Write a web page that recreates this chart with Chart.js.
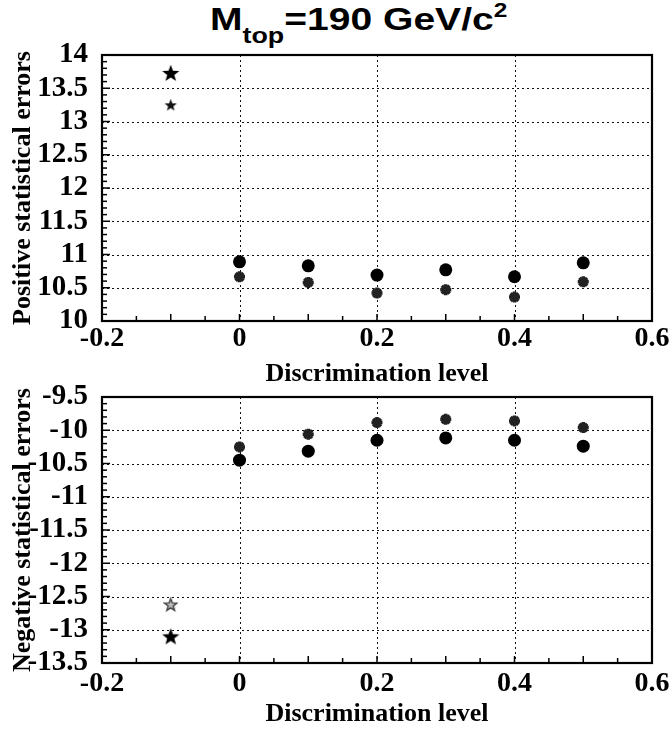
<!DOCTYPE html>
<html>
<head>
<meta charset="utf-8">
<script src="https://cdn.jsdelivr.net/npm/chart.js@4/dist/chart.umd.min.js"></script>
<style>
  html, body { margin:0; padding:0; background:#fff; }
  #wrap { position:relative; width:672px; height:730px; overflow:hidden; }
  canvas { position:absolute; left:0; top:0; }
  #title { position:absolute; left:210px; top:3px; font-family:"Liberation Sans", Arial, sans-serif; font-weight:bold; font-size:32px; line-height:1; white-space:nowrap; transform:scaleX(1.22); transform-origin:0 0; color:#000; }
  #title .sub { font-size:22px; position:relative; top:13px; }
  #title .sup { font-size:20px; position:relative; top:-13px; }
</style>
</head>
<body>
<div id="wrap">
  <div id="title">M<span class="sub">top</span>=190 GeV/c<span class="sup">2</span></div>
  <canvas id="c1" width="672" height="730"></canvas>
  <canvas id="c2" width="672" height="730"></canvas>
</div>
<script>
// ---- data ----
const discLevels = [0, 0.1, 0.2, 0.3, 0.4, 0.5];
const starLevel = [-0.1];
const posCircle = [10.89, 10.83, 10.69, 10.77, 10.665, 10.875];
const posAsterisk = [10.665, 10.58, 10.42, 10.47, 10.36, 10.59];
const posBigStar = [13.73];
const posSmallStar = [13.25];
const negAsterisk = [-10.25, -10.06, -9.885, -9.835, -9.86, -9.96];
const negCircle = [-10.45, -10.315, -10.15, -10.115, -10.15, -10.24];
const negSmallStar = [-12.62];
const negBigStar = [-13.10];
const xTickLabels = ['-0.2', '0', '0.2', '0.4', '0.6'];
const posYTickLabels = ['10', '10.5', '11', '11.5', '12', '12.5', '13', '13.5', '14'];
const negYTickLabels = ['-13.5', '-13', '-12.5', '-12', '-11.5', '-11', '-10.5', '-10', '-9.5'];
const xTitle = 'Discrimination level';
const posYTitle = 'Positive statistical errors';
const negYTitle = 'Negative statistical errors';

// ---- marker images ----
function starImage(size, fill, stroke) {
  const c = document.createElement('canvas');
  c.width = size; c.height = size;
  const g = c.getContext('2d');
  const cx = size / 2, cy = size / 2 + size * 0.04;
  const R = size / 2 - 1, r = R * 0.42;
  g.beginPath();
  for (let i = 0; i < 10; i++) {
    const ang = -Math.PI / 2 + i * Math.PI / 5;
    const rad = i % 2 === 0 ? R : r;
    const px = cx + rad * Math.cos(ang), py = cy + rad * Math.sin(ang);
    if (i === 0) g.moveTo(px, py); else g.lineTo(px, py);
  }
  g.closePath();
  if (fill) { g.fillStyle = fill; g.fill(); }
  if (stroke) { g.strokeStyle = stroke; g.lineWidth = 1.5; g.stroke(); }
  return c;
}
const bigStar = starImage(20, '#000', null);
const smallStarFilled = starImage(15, '#111', null);
const smallStarOpen = starImage(15, '#bbb', '#444');

function pts(xs, ys) { return xs.map((x, i) => ({ x: x, y: ys[i] })); }

const frame = {
  id: 'frame',
  beforeDatasetsDraw(chart) {
    const { ctx, chartArea: a, scales: { x, y } } = chart;
    ctx.save();
    ctx.strokeStyle = '#111';
    ctx.lineWidth = 1;
    ctx.setLineDash([2, 3]);
    x.ticks.forEach(t => {
      const px = Math.round(x.getPixelForValue(t.value)) + 0.5;
      ctx.beginPath(); ctx.moveTo(px, a.top); ctx.lineTo(px, a.bottom); ctx.stroke();
    });
    y.ticks.forEach(t => {
      const py = Math.round(y.getPixelForValue(t.value)) + 0.5;
      ctx.beginPath(); ctx.moveTo(a.left, py); ctx.lineTo(a.right, py); ctx.stroke();
    });
    ctx.restore();
  },
  afterDraw(chart) {
    const { ctx, chartArea: a, scales: { x, y } } = chart;
    ctx.save();
    ctx.strokeStyle = '#000';
    ctx.lineWidth = 1.5;
    const ny = Math.round((y.max - y.min) / 0.1);
    for (let i = 0; i <= ny; i++) {
      const py = y.getPixelForValue(y.min + i * 0.1);
      const len = i % 5 === 0 ? 8 : 5;
      ctx.beginPath(); ctx.moveTo(a.left, py); ctx.lineTo(a.left + len, py); ctx.stroke();
    }
    const nx = Math.round((x.max - x.min) / 0.05);
    for (let i = 0; i <= nx; i++) {
      const px = x.getPixelForValue(x.min + i * 0.05);
      const len = i % 2 === 0 ? 7 : 5;
      ctx.beginPath(); ctx.moveTo(px, a.bottom); ctx.lineTo(px, a.bottom - len); ctx.stroke();
    }
    ctx.lineWidth = 2.2;
    ctx.strokeRect(a.left, a.top, a.right - a.left, a.bottom - a.top);
    ctx.restore();
  }
};

const serif = '"Liberation Serif", "Times New Roman", serif';

function makeChart(id, cfg) {
  return new Chart(document.getElementById(id), {
    type: 'scatter',
    data: { datasets: cfg.datasets },
    options: {
      responsive: false,
      animation: false,
      events: [],
      layout: { padding: cfg.padding },
      plugins: { legend: { display: false }, tooltip: { enabled: false }, title: { display: false } },
      scales: {
        x: {
          type: 'linear', min: -0.2, max: 0.6,
          afterFit(s) { s.height = cfg.xHeight; s.paddingLeft = 0; s.paddingRight = 0; },
          ticks: {
            stepSize: 0.2, padding: cfg.xTickPad, color: '#000', maxRotation: 0, autoSkip: false,
            font: { family: serif, size: 28, weight: 'bold' },
            callback: (v, i) => xTickLabels[i]
          },
          grid: { display: false, drawTicks: false },
          border: { display: false },
          title: { display: true, text: xTitle, color: '#000', padding: { top: 0, bottom: 0 },
                   font: { family: serif, size: 26, weight: 'bold', lineHeight: 1.2 } }
        },
        y: {
          type: 'linear', min: cfg.yMin, max: cfg.yMax,
          afterFit(s) { s.width = 102; s.paddingTop = 0; s.paddingBottom = 0; },
          ticks: {
            stepSize: 0.5, padding: 14, color: '#000', autoSkip: false,
            font: { family: serif, size: 29, weight: 'bold' },
            callback: (v, i) => cfg.yLabels[i]
          },
          grid: { display: false, drawTicks: false },
          border: { display: false },
          title: { display: true, text: cfg.yTitle, color: '#000', padding: { top: 8, bottom: 0 },
                   font: { family: serif, size: 26, weight: 'bold', lineHeight: 1.2 } }
        }
      }
    },
    plugins: [frame]
  });
}

makeChart('c1', {
  padding: { top: 55, right: 20, left: 0, bottom: 340 },
  xHeight: 69, xTickPad: 1,
  yMin: 10, yMax: 14, yLabels: posYTickLabels, yTitle: posYTitle,
  datasets: [
    { data: pts(discLevels, posCircle), pointStyle: 'circle', pointRadius: 6.5, backgroundColor: '#000', borderColor: '#000', borderWidth: 0 },
    { data: pts(discLevels, posAsterisk), pointStyle: 'star', pointRadius: 5.5, backgroundColor: '#222', borderColor: '#222', borderWidth: 3.5 },
    { data: pts(starLevel, posBigStar), pointStyle: bigStar },
    { data: pts(starLevel, posSmallStar), pointStyle: smallStarFilled }
  ]
});

makeChart('c2', {
  padding: { top: 397, right: 20, left: 0, bottom: 0 },
  xHeight: 67, xTickPad: 4,
  yMin: -13.5, yMax: -9.5, yLabels: negYTickLabels, yTitle: negYTitle,
  datasets: [
    { data: pts(discLevels, negCircle), pointStyle: 'circle', pointRadius: 6.5, backgroundColor: '#000', borderColor: '#000', borderWidth: 0 },
    { data: pts(discLevels, negAsterisk), pointStyle: 'star', pointRadius: 5.5, backgroundColor: '#222', borderColor: '#222', borderWidth: 3.5 },
    { data: pts(starLevel, negBigStar), pointStyle: bigStar },
    { data: pts(starLevel, negSmallStar), pointStyle: smallStarOpen }
  ]
});
</script>
</body>
</html>
